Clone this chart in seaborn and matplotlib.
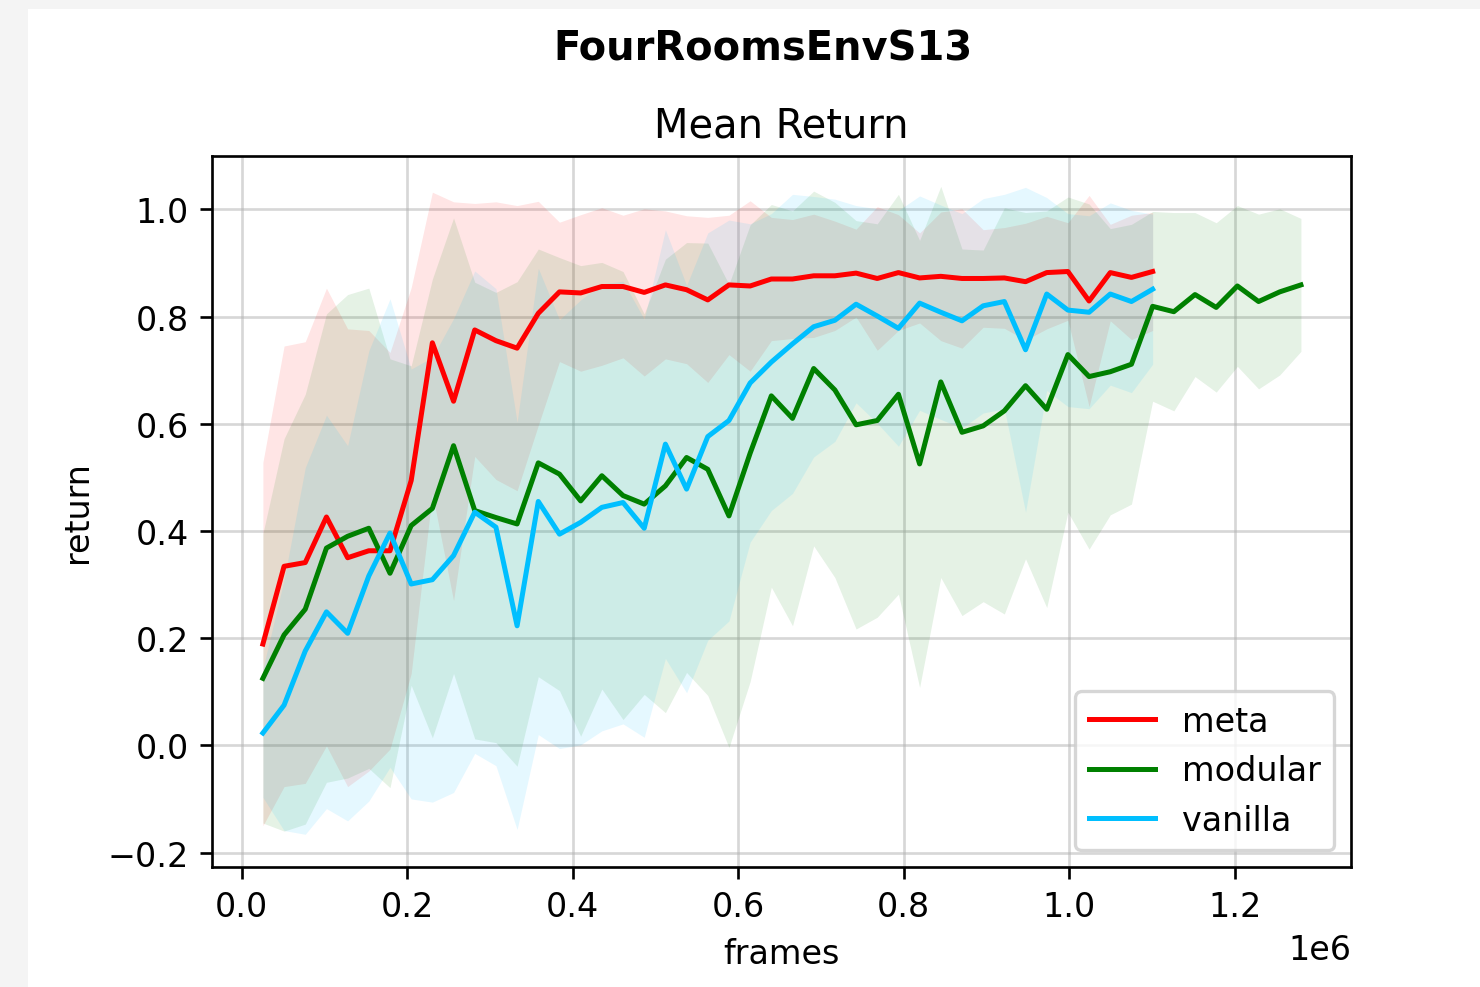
import numpy as np
import pandas as pd
import matplotlib
matplotlib.use("Agg")
import matplotlib.pyplot as plt
from matplotlib.patches import Rectangle
import seaborn as sns

# training progress: one evaluation every 25600 frames
STEP = 25600

meta_mean = [0.189, 0.334, 0.341, 0.426, 0.350, 0.363, 0.363, 0.494, 0.751, 0.642,
             0.775, 0.755, 0.741, 0.806, 0.846, 0.844, 0.856, 0.856, 0.845, 0.859,
             0.850, 0.831, 0.859, 0.857, 0.870, 0.870, 0.876, 0.876, 0.881, 0.871,
             0.882, 0.872, 0.875, 0.871, 0.871, 0.872, 0.865, 0.882, 0.884, 0.829,
             0.882, 0.873, 0.884]
meta_std = [0.339, 0.411, 0.412, 0.427, 0.427, 0.411, 0.370, 0.360, 0.281, 0.372,
            0.236, 0.259, 0.266, 0.209, 0.130, 0.146, 0.147, 0.133, 0.156, 0.138,
            0.138, 0.154, 0.130, 0.159, 0.115, 0.111, 0.115, 0.102, 0.082, 0.134,
            0.108, 0.084, 0.120, 0.130, 0.091, 0.094, 0.109, 0.105, 0.091, 0.197,
            0.090, 0.116, 0.110]

modular_mean = [0.125, 0.206, 0.254, 0.368, 0.390, 0.405, 0.321, 0.410, 0.442, 0.559,
                0.438, 0.425, 0.413, 0.527, 0.506, 0.456, 0.503, 0.466, 0.450, 0.484,
                0.537, 0.515, 0.428, 0.545, 0.652, 0.610, 0.703, 0.663, 0.598, 0.606,
                0.655, 0.525, 0.678, 0.584, 0.596, 0.624, 0.671, 0.627, 0.729, 0.688,
                0.697, 0.711, 0.819, 0.809, 0.841, 0.817, 0.857, 0.828, 0.846, 0.859]
modular_std = [0.270, 0.366, 0.401, 0.437, 0.451, 0.448, 0.400, 0.298, 0.428, 0.425,
               0.426, 0.420, 0.452, 0.399, 0.404, 0.439, 0.398, 0.418, 0.355, 0.423,
               0.401, 0.422, 0.432, 0.426, 0.357, 0.387, 0.331, 0.350, 0.381, 0.367,
               0.373, 0.417, 0.365, 0.342, 0.328, 0.379, 0.323, 0.370, 0.294, 0.322,
               0.267, 0.261, 0.177, 0.185, 0.153, 0.158, 0.150, 0.163, 0.155, 0.124]

vanilla_mean = [0.023, 0.075, 0.176, 0.249, 0.209, 0.316, 0.396, 0.301, 0.309, 0.354,
                0.435, 0.407, 0.223, 0.455, 0.394, 0.416, 0.444, 0.453, 0.405, 0.562,
                0.478, 0.576, 0.606, 0.676, 0.715, 0.749, 0.781, 0.793, 0.823, 0.801,
                0.778, 0.825, 0.808, 0.792, 0.820, 0.828, 0.738, 0.842, 0.812, 0.808,
                0.842, 0.828, 0.851]
vanilla_std = [0.120, 0.234, 0.342, 0.367, 0.350, 0.420, 0.437, 0.401, 0.415, 0.442,
               0.450, 0.445, 0.380, 0.435, 0.400, 0.415, 0.417, 0.413, 0.390, 0.400,
               0.380, 0.380, 0.374, 0.297, 0.277, 0.279, 0.243, 0.226, 0.184, 0.200,
               0.220, 0.200, 0.200, 0.200, 0.200, 0.200, 0.303, 0.180, 0.180, 0.180,
               0.170, 0.170, 0.140]

series = [
    ("meta", meta_mean, meta_std, "red"),
    ("modular", modular_mean, modular_std, "green"),
    ("vanilla", vanilla_mean, vanilla_std, "deepskyblue"),
]

W, H, DPI = 1480, 988, 240
fig = plt.figure(figsize=(W / DPI, H / DPI), dpi=DPI, facecolor="white")
# light grey page margin on the left and top
fig.patches.append(Rectangle((0, 0), 28 / W, 1, transform=fig.transFigure,
                             facecolor="#f4f4f4", edgecolor="none", zorder=-10))
fig.patches.append(Rectangle((0, 1 - 10 / H), 1, 10 / H, transform=fig.transFigure,
                             facecolor="#f4f4f4", edgecolor="none", zorder=-10))

ax = fig.add_axes([212 / W, 1 - 868 / H, (1351 - 212) / W, (868 - 157) / H])

for name, mean, std, color in series:
    mean = np.asarray(mean)
    std = np.asarray(std)
    frames = np.arange(1, len(mean) + 1) * STEP
    df = pd.DataFrame({"frames": frames, "return": mean})
    sns.lineplot(data=df, x="frames", y="return", color=color, label=name,
                 linewidth=1.5, ax=ax)
    ax.fill_between(frames, mean - std, mean + std, color=color, alpha=0.1,
                    linewidth=0)

ax.set_xlim(-0.0359e6, 1.3405e6)
ax.set_ylim(-0.227, 1.0995)
ax.set_xticks([0, 0.2e6, 0.4e6, 0.6e6, 0.8e6, 1.0e6, 1.2e6])
ax.set_yticks([-0.2, 0.0, 0.2, 0.4, 0.6, 0.8, 1.0])
ax.grid(True, color="#b0b0b0", alpha=0.5, linewidth=0.8)
ax.set_axisbelow(True)
ax.set_xlabel("frames")
ax.set_ylabel("return")
ax.set_title("Mean Return")
ax.legend(loc="lower right")
fig.suptitle("FourRoomsEnvS13", fontweight="bold", x=762.5 / W, y=1 - 61 / H,
             va="baseline")

fig.savefig("out.png", dpi=DPI)
